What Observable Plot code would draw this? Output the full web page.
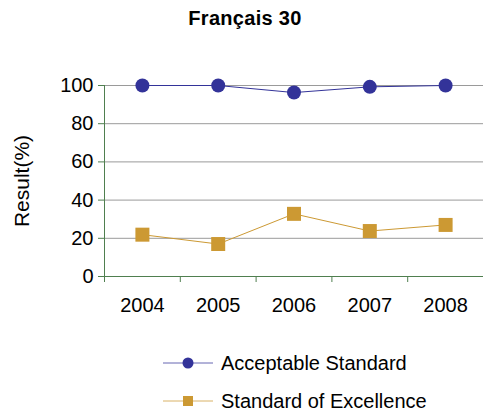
<!DOCTYPE html>
<html>
<head>
<meta charset="utf-8">
<script src="https://cdn.jsdelivr.net/npm/d3@7"></script>
<script src="https://cdn.jsdelivr.net/npm/@observablehq/plot@0.6"></script>
<style>
  html, body { margin: 0; padding: 0; background: #fff; }
  body { width: 483px; height: 413px; position: relative; overflow: hidden; font-family: "Liberation Sans", Arial, sans-serif; }
  #title { position: absolute; left: 0; top: 7px; width: 490px; text-align: center; font-weight: bold; font-size: 20px; letter-spacing: 0.3px; color: #000; }
  #chart { position: absolute; left: 0; top: 40px; }
  .leg { position: absolute; left: 163px; height: 20px; display: flex; align-items: center; font-size: 20px; letter-spacing: 0px; color: #000; }
  .leg svg { margin-right: 8px; }
</style>
</head>
<body>
<div id="title">Français 30</div>
<div id="chart"></div>
<div id="legend"></div>
<script>
const years = [2004, 2005, 2006, 2007, 2008];
const acceptable = [100, 100, 96.3, 99.3, 100];
const excellence = [21.9, 17.0, 32.8, 23.8, 27.0];
const yTicks = [0, 20, 40, 60, 80, 100];
const seriesNames = ["Acceptable Standard", "Standard of Excellence"];
const seriesColors = ["#333399", "#CC9933"];
const axisGreen = "#4f7f4f";

const data = [
  ...years.map((yr, i) => ({year: yr, value: acceptable[i], series: seriesNames[0]})),
  ...years.map((yr, i) => ({year: yr, value: excellence[i], series: seriesNames[1]}))
];
const boundaries = [...years.map(y => y - 0.5), years[years.length - 1] + 0.5];

const chart = Plot.plot({
  width: 483,
  height: 290,
  marginTop: 45,
  marginBottom: 54,
  marginLeft: 104,
  marginRight: 0,
  style: {fontFamily: "'Liberation Sans', Arial, sans-serif", background: "#fff"},
  x: {domain: [boundaries[0], boundaries[boundaries.length - 1]]},
  y: {domain: [0, 100]},
  color: {domain: seriesNames, range: seriesColors},
  marks: [
    Plot.gridY(yTicks, {stroke: "#9a9a9a", strokeOpacity: 1}),
    Plot.ruleY([0], {stroke: axisGreen}),
    Plot.ruleX([boundaries[0]], {stroke: axisGreen}),
    Plot.axisY(yTicks, {tickSize: 6, tickPadding: 5, stroke: axisGreen, fill: "#000", fontSize: 20,
      style: {letterSpacing: "-0.3px"},
      label: "Result(%)", labelAnchor: "center", labelArrow: "none", labelOffset: 90}),
    Plot.axisX(years, {tickSize: 0, tickPadding: 21, tickFormat: "d", fontSize: 20, fill: "#000", label: null}),
    Plot.axisX(boundaries, {tickSize: 6, tickFormat: () => "", stroke: axisGreen, label: null}),
    Plot.line(data, {x: "year", y: "value", z: "series", stroke: "series", strokeWidth: 1}),
    Plot.dot(data.filter(d => d.series === seriesNames[0]), {x: "year", y: "value", r: 7, fill: "series", symbol: "circle"}),
    Plot.dot(data.filter(d => d.series === seriesNames[1]), {x: "year", y: "value", r: 7.9, fill: "series", symbol: "square"})
  ]
});
document.getElementById("chart").appendChild(chart);
// enlarge the y-axis title slightly
chart.querySelectorAll("[aria-label='y-axis label'] text").forEach(t => t.setAttribute("font-size", 21));

// Legend
const legend = document.getElementById("legend");
const legendTops = [353, 391];
seriesNames.forEach((name, i) => {
  const row = document.createElement("div");
  row.className = "leg";
  row.style.top = legendTops[i] + "px";
  const shape = i === 0
    ? `<circle cx="25" cy="10" r="5.5" fill="${seriesColors[i]}"/>`
    : `<rect x="20" y="5" width="10" height="10" fill="${seriesColors[i]}"/>`;
  row.innerHTML = `<svg width="50" height="20"><line x1="0" x2="50" y1="10" y2="10" stroke="${seriesColors[i]}" stroke-opacity="0.75" stroke-width="1"/>${shape}</svg><span>${name}</span>`;
  legend.appendChild(row);
});
</script>
</body>
</html>
